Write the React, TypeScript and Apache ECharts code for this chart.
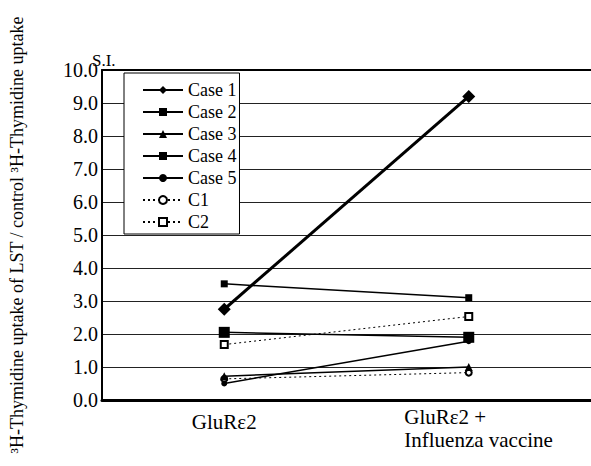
import React, { useEffect, useRef } from "react";
import * as echarts from "echarts";

const categories = ["GluRε2", "GluRε2 +\nInfluenza vaccine"];
const seriesNames = ["Case 1", "Case 2", "Case 3", "Case 4", "Case 5", "C1", "C2"];
const case1 = [2.75, 9.2];
const case2 = [3.52, 3.1];
const case3 = [0.72, 1.0];
const case4 = [2.05, 1.9];
const case5 = [0.5, 1.78];
const c1 = [0.64, 0.83];
const c2 = [1.68, 2.53];
const yTicks = { min: 0, max: 10, interval: 1 };

const FONT = "'Liberation Serif', 'Times New Roman', serif";

export default function App() {
  const ref = useRef<HTMLDivElement>(null);
  useEffect(() => {
    document.body.style.margin = "0";
    const chart = echarts.init(ref.current!, null, { renderer: "svg" });
    const mk = (
      name: string,
      data: number[],
      symbol: string,
      symbolSize: number,
      width: number,
      dotted: boolean,
      z: number
    ) => ({
      name,
      type: "line",
      data,
      symbol,
      symbolSize,
      z,
      lineStyle: { color: "#000", width, type: dotted ? [2, 3] : "solid" },
      itemStyle: { color: "#000", borderWidth: dotted ? 1 : 0 },
      emphasis: { disabled: true },
    });
    chart.setOption({
      animation: false,
      textStyle: { fontFamily: FONT },
      grid: { left: 90, top: 70, width: 506, bottom: 66 },
      legend: {
        orient: "vertical",
        left: 124,
        top: 73,
        padding: [8, 3, 3, 18],
        borderColor: "#000",
        borderWidth: 1,
        backgroundColor: "#fff",
        itemWidth: 40,
        itemHeight: 10,
        itemGap: 4,
        data: seriesNames,
        textStyle: { fontFamily: FONT, fontSize: 18, color: "#000", lineHeight: 18 },
      },
      graphic: [
        {
          type: "text",
          left: 92,
          top: 52,
          style: { text: "S.I.", fontFamily: FONT, fontSize: 17, fill: "#000" },
        },
      ],
      xAxis: [
        {
          type: "category",
          data: categories,
          boundaryGap: true,
          axisLine: { lineStyle: { color: "#000", width: 3 } },
          axisTick: { show: false },
          axisLabel: {
            margin: 5,
            fontFamily: FONT,
            fontSize: 21,
            color: "#000",
            lineHeight: 23,
            formatter: (v: string) => {
              const lines = v.split("\n");
              if (lines.length === 1) return "{s|" + v + "}";
              return lines.map((l) => "{a|" + l + "}").join("\n");
            },
            rich: {
              s: { fontFamily: FONT, fontSize: 21, color: "#000", lineHeight: 33 },
              a: { fontFamily: FONT, fontSize: 21, color: "#000", lineHeight: 23, width: 129, align: "left" },
            },
          },
        },
        {
          type: "category",
          data: categories,
          position: "top",
          axisLine: { lineStyle: { color: "#000", width: 2 } },
          axisTick: { show: false },
          axisLabel: { show: false },
        },
      ],
      yAxis: {
        type: "value",
        min: yTicks.min,
        max: yTicks.max,
        interval: yTicks.interval,
        name: "³H-Thymidine uptake of LST / control ³H-Thymidine uptake",
        nameLocation: "middle",
        nameRotate: 90,
        nameGap: 76,
        nameTextStyle: { fontFamily: FONT, fontSize: 18, color: "#000" },
        axisLine: { show: true, lineStyle: { color: "#000", width: 2 } },
        axisTick: { show: false },
        axisLabel: {
          margin: 4,
          fontFamily: FONT,
          fontSize: 20,
          color: "#000",
          formatter: (v: number) => v.toFixed(1),
        },
        splitLine: { lineStyle: { color: "#222", width: 1 } },
      },
      series: [
        mk("C1", c1, "emptyCircle", 6, 1, true, 2),
        mk("C2", c2, "emptyRect", 7, 1, true, 2),
        mk("Case 5", case5, "circle", 6, 1.5, false, 3),
        mk("Case 3", case3, "triangle", 8, 1.5, false, 3),
        mk("Case 4", case4, "rect", 11, 1.5, false, 3),
        mk("Case 2", case2, "rect", 7, 1.5, false, 3),
        mk("Case 1", case1, "diamond", 13, 3, false, 4),
      ],
    });
    return () => chart.dispose();
  }, []);
  return <div ref={ref} style={{ width: 591, height: 466 }} />;
}
